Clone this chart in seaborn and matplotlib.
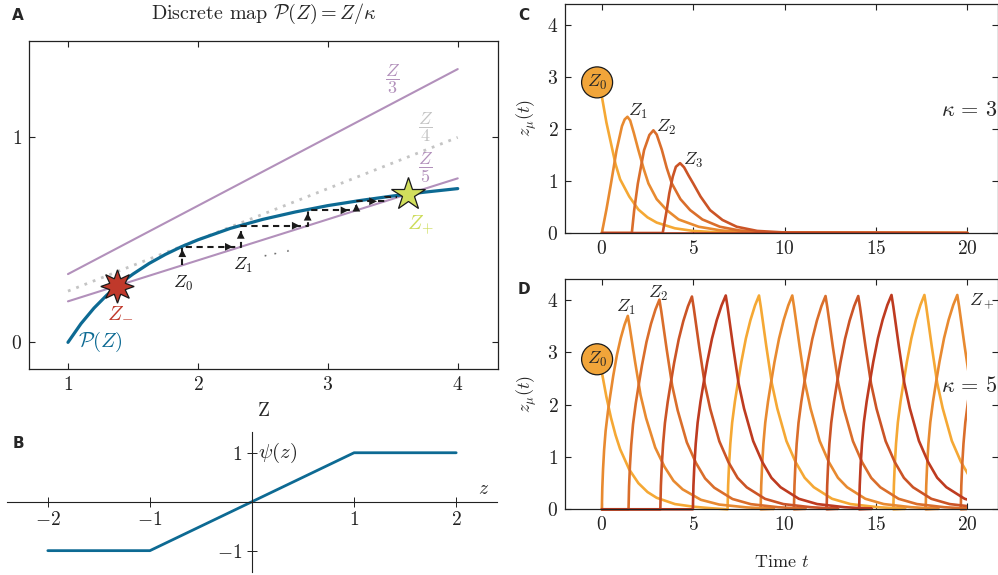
import numpy as np
import pandas as pd
import seaborn as sns
import matplotlib.pyplot as plt
from matplotlib.patches import Rectangle

# ---- Panel A: discrete map ----
Z_grid = [1.0, 1.1, 1.2, 1.3, 1.4, 1.5, 1.625, 1.75, 1.875, 2.0, 2.25, 2.5,
          2.75, 3.0, 3.25, 3.5, 3.75, 4.0]
P_vals = [0.0, 0.091, 0.167, 0.231, 0.286, 0.333, 0.385, 0.429, 0.467, 0.5,
          0.556, 0.6, 0.636, 0.667, 0.692, 0.714, 0.733, 0.75]
Z_ends = [1.0, 4.0]
Z_over3 = [0.333, 1.333]
Z_over4 = [0.25, 1.0]
Z_over5 = [0.2, 0.8]
cob_Z = [1.88, 2.33, 2.845, 3.22, 3.44, 3.535]
cob_y = [0.376, 0.466, 0.569, 0.644, 0.688, 0.707]
fixed_Z = [1.38, 3.62]
fixed_y = [0.276, 0.724]

# ---- Panel B: psi(z) ----
psi_z = [-2, -1, 1, 2]
psi_v = [-1, -1, 1, 1]

# ---- Panel C: kappa = 3 ----
c_t0 = [0, 0.25, 0.5, 0.75, 1.0, 1.5, 2.0, 2.5, 3.0, 4.0, 5.0, 6.0, 8.0, 10.0, 20.0]
c_v0 = [2.62, 2.12, 1.72, 1.32, 1.03, 0.70, 0.45, 0.30, 0.20, 0.09, 0.04, 0.02, 0.005, 0, 0]
c_t1 = [0, 0.25, 0.5, 0.8, 1.1, 1.25, 1.4, 1.55, 1.75, 2.0, 2.3, 2.55, 3.0, 3.55, 4.2, 5.3, 6.5, 8.0, 20]
c_v1 = [0, 0.45, 0.95, 1.58, 2.05, 2.18, 2.23, 2.16, 1.92, 1.59, 1.22, 0.95, 0.65, 0.44, 0.26, 0.12, 0.05, 0.01, 0]
c_t2 = [0, 1.64, 1.77, 1.97, 2.31, 2.6, 2.82, 3.0, 3.28, 3.55, 3.83, 4.3, 4.83, 5.5, 6.46, 7.5, 9.0, 20]
c_v2 = [0, 0, 0.44, 0.95, 1.59, 1.88, 1.97, 1.89, 1.60, 1.25, 0.95, 0.65, 0.44, 0.26, 0.12, 0.05, 0.01, 0]
c_t3 = [0, 3.33, 3.55, 3.69, 3.88, 4.05, 4.28, 4.5, 4.75, 5.0, 5.4, 5.92, 6.6, 7.38, 8.5, 10.0, 20]
c_v3 = [0, 0, 0.44, 0.76, 1.08, 1.27, 1.34, 1.26, 1.1, 0.95, 0.7, 0.44, 0.25, 0.12, 0.04, 0.01, 0]
c_t4 = [0, 20]
c_v4 = [0, 0]

# ---- Panel D: kappa = 5 ----
# one pulse (onset -> peak, peak -> decay)
rise_dt = [0, 0.03, 0.08, 0.15, 0.25, 0.40, 0.55, 0.75, 1.00, 1.25, 1.50, 1.72]
rise_v = [0, 0.45, 0.85, 1.25, 1.65, 2.05, 2.38, 2.80, 3.25, 3.60, 3.88, 4.07]
decay_dt = [0, 0.1, 0.2, 0.4, 0.7, 1.0, 1.5, 2.0, 2.5, 3.0, 4.0, 5.0, 6.5, 8.0]
decay_v = [4.07, 3.85, 3.6, 3.1, 2.40, 1.92, 1.30, 0.90, 0.60, 0.42, 0.20, 0.10, 0.04, 0.01]
# Z0 initial decay
d_t0 = [0, 0.25, 0.5, 0.75, 1.0, 1.5, 2.0, 2.5, 3.0, 4.0, 5.0, 6.0]
d_v0 = [2.62, 2.15, 1.75, 1.42, 1.15, 0.76, 0.50, 0.33, 0.22, 0.10, 0.05, 0.02]
# pulses per unit: (onset, peak time, peak value)
d_pulses = [
    [(6.88, 8.60, 4.09), (15.95, 17.65, 4.10)],
    [(0.0, 1.42, 3.70), (8.69, 10.42, 4.09), (17.72, 19.45, 4.10)],
    [(1.46, 3.15, 4.01), (10.51, 12.24, 4.08), (19.64, 21.35, 4.10)],
    [(3.20, 4.93, 4.07), (12.30, 14.03, 4.08)],
    [(4.98, 6.78, 4.09), (14.08, 15.85, 4.10)],
]

unit_colors = ['#f5a834', '#e88a30', '#da6e2b', '#cb5426', '#be3b20']
blue = '#0d6a93'
purple = '#b290bb'

sns.set_theme(style='ticks')
plt.rcParams['font.family'] = ['cmr10', 'DejaVu Sans']
plt.rcParams['mathtext.fontset'] = 'cm'
plt.rcParams['axes.formatter.use_mathtext'] = True
plt.rcParams['axes.unicode_minus'] = True
plt.rcParams['axes.edgecolor'] = '#222222'
plt.rcParams['axes.linewidth'] = 0.9

W, H = 998, 575
fig = plt.figure(figsize=(W / 100, H / 100), dpi=100)


def box(l, t, r, b):
    return [l / W, 1 - b / H, (r - l) / W, (b - t) / H]


# ================= A =================
axA = fig.add_axes(box(29, 41, 498, 369))
sns.lineplot(x=Z_ends, y=Z_over3, ax=axA, color=purple, lw=1.5)
sns.lineplot(x=Z_ends, y=Z_over5, ax=axA, color=purple, lw=1.5)
sns.lineplot(x=Z_ends, y=Z_over4, ax=axA, color='#c4c4c4', lw=2.0)
axA.lines[-1].set_linestyle((0, (1, 2.2)))
sns.lineplot(x=Z_grid, y=P_vals, ax=axA, color=blue, lw=2.3, sort=False, estimator=None)

# cobweb
path_x, path_y = [], []
for n in range(len(cob_Z) - 1):
    path_x += [cob_Z[n], cob_Z[n], cob_Z[n + 1]]
    path_y += [cob_y[n], cob_y[n + 1], cob_y[n + 1]]
axA.plot(path_x, path_y, color='k', lw=1.5, ls=(0, (3, 2.2)))
for n in range(len(cob_Z) - 2):
    dv = cob_y[n + 1] - cob_y[n]
    axA.annotate('', xy=(cob_Z[n], cob_y[n + 1] - 0.012),
                 xytext=(cob_Z[n], cob_y[n + 1] - 0.012 - dv * 0.3),
                 arrowprops=dict(arrowstyle='-|>', color='k', lw=0, mutation_scale=14))
    dz = cob_Z[n + 1] - cob_Z[n]
    axA.annotate('', xy=(cob_Z[n + 1] - 0.04, cob_y[n + 1]),
                 xytext=(cob_Z[n + 1] - 0.04 - dz * 0.3, cob_y[n + 1]),
                 arrowprops=dict(arrowstyle='-|>', color='k', lw=0, mutation_scale=14))

axA.plot(fixed_Z[0], fixed_y[0], marker=(8, 1, 0), ms=24, mfc='#c0392b', mec='k', mew=0.9)
axA.plot(fixed_Z[1], fixed_y[1], marker='*', ms=25, mfc='#d2df5c', mec='k', mew=0.9)

axA.text(3.5, 1.285, r'$\dfrac{Z}{3}$', color=purple, fontsize=13, ha='center', va='center')
axA.text(3.754, 1.05, r'$\dfrac{Z}{4}$', color='#c4c4c4', fontsize=13, ha='center', va='center')
axA.text(3.754, 0.85, r'$\dfrac{Z}{5}$', color=purple, fontsize=13, ha='center', va='center')
axA.text(1.40, 0.146, r'$Z_{-}$', color='#c0392b', fontsize=15, ha='center', va='center')
axA.text(3.71, 0.571, r'$Z_{+}$', color='#cddc5a', fontsize=15, ha='center', va='center')
axA.text(1.885, 0.288, r'$Z_0$', color='k', fontsize=13, ha='center', va='center')
axA.text(2.346, 0.376, r'$Z_1$', color='k', fontsize=13, ha='center', va='center')
axA.text(2.6, 0.44, r'$\cdot\ \cdot\ \cdot$', color='k', fontsize=10, ha='center', va='center',
         rotation=12)
axA.text(1.08, 0.0, r'$\mathcal{P}(Z)$', color=blue, fontsize=15, ha='left', va='center')

axA.set_xlim(0.7, 4.31)
axA.set_ylim(-0.13, 1.47)
axA.set_xticks([1, 2, 3, 4])
axA.set_yticks([0, 1])
axA.tick_params(direction='in', top=True, right=True, length=4, width=0.8,
                labelsize=14, colors='#222222', pad=5)
axA.set_xlabel('Z', fontsize=14, labelpad=6)
axA.set_ylabel('')
axA.set_title(r'Discrete map $\mathcal{P}(Z) = Z/\kappa$', fontsize=14.5, pad=16)

# ================= B =================
axB = fig.add_axes(box(7, 431.7, 497, 571.7))
sns.lineplot(x=psi_z, y=psi_v, ax=axB, color=blue, lw=2.0, sort=False, estimator=None)
axB.set_xlim(-2.4, 2.4)
axB.set_ylim(-1.43, 1.43)
axB.spines['left'].set_position('zero')
axB.spines['bottom'].set_position('zero')
axB.spines['right'].set_visible(False)
axB.spines['top'].set_visible(False)
axB.spines['left'].set_linewidth(0.8)
axB.spines['bottom'].set_linewidth(0.8)
axB.patch.set_alpha(0)
axB.set_xticks([-2, -1, 1, 2])
axB.set_yticks([-1, 1])
axB.tick_params(direction='inout', length=7, width=0.7, labelsize=14, colors='#222222')
axB.annotate('', xy=(2.42, 0), xytext=(2.3, 0),
             arrowprops=dict(arrowstyle='->', lw=0.8, color='#222222', mutation_scale=10))
axB.annotate('', xy=(0, 1.45), xytext=(0, 1.3),
             arrowprops=dict(arrowstyle='->', lw=0.8, color='#222222', mutation_scale=10))
axB.text(2.27, 0.26, r'$z$', fontsize=14, ha='center', va='center')
axB.text(0.06, 1.0, r'$\psi(z)$', fontsize=15, ha='left', va='center')
axB.set_xlabel('')
axB.set_ylabel('')


# ================= C and D =================
def style_ts(ax):
    ax.set_xlim(-2, 21.65)
    ax.set_ylim(0, 4.4)
    ax.set_xticks([0, 5, 10, 15, 20])
    ax.set_yticks([0, 1, 2, 3, 4])
    ax.tick_params(direction='in', top=True, right=True, length=4, width=0.8,
                   labelsize=14, colors='#222222', pad=5)
    ax.set_ylabel(r'$z_{\mu}(t)$', fontsize=13, labelpad=6)


axC = fig.add_axes(box(565.3, 3.7, 997.5, 233))
c_series = [(c_t0, c_v0), (c_t1, c_v1), (c_t2, c_v2), (c_t3, c_v3), (c_t4, c_v4)]
frames = []
for u, (tt, vv) in enumerate(c_series):
    frames.append(pd.DataFrame({'t': tt, 'z': vv, 'unit': u}))
dfC = pd.concat(frames, ignore_index=True)
sns.lineplot(data=dfC, x='t', y='z', hue='unit', palette=unit_colors, ax=axC,
             lw=1.9, sort=False, estimator=None, legend=False)
style_ts(axC)
axC.set_xlabel('')
axC.text(1.95, 2.33, r'$Z_1$', fontsize=13, ha='center', va='center')
axC.text(3.5, 2.03, r'$Z_2$', fontsize=13, ha='center', va='center')
axC.text(5.0, 1.4, r'$Z_3$', fontsize=13, ha='center', va='center')
axC.text(21.65, 2.35, r'$\kappa\,=\,3$', fontsize=16, ha='right', va='center')
axC.text(-0.26, 2.89, r'$Z_0$', fontsize=13, ha='center', va='center',
         bbox=dict(boxstyle='circle,pad=0.3', fc='#f1a53a', ec='k', lw=0.9))

axD = fig.add_axes(box(565.3, 279.3, 997.5, 509.3))
frames = []
for u, pulses in enumerate(d_pulses):
    if u == 0:
        tt, vv = list(d_t0), list(d_v0)
    else:
        tt, vv = [0.0], [0.0]
    for (t0, tp, h) in pulses:
        scale_t = (tp - t0) / rise_dt[-1]
        tt += list(t0 + np.array(rise_dt) * scale_t)
        vv += list(np.array(rise_v) * h / rise_v[-1])
        tt += list(tp + np.array(decay_dt[1:]))
        vv += list(np.array(decay_v[1:]) * h / decay_v[0])
    frames.append(pd.DataFrame({'t': tt, 'z': vv, 'unit': u}))
dfD = pd.concat(frames, ignore_index=True)
sns.lineplot(data=dfD, x='t', y='z', hue='unit', palette=unit_colors, ax=axD,
             lw=1.9, sort=False, estimator=None, legend=False)
clip = Rectangle((-2, -1), 22, 7, transform=axD.transData)
for ln in axD.lines:
    ln.set_clip_path(clip)
style_ts(axD)
axD.set_xlabel(r'Time $t$', fontsize=13, labelpad=14)
axD.text(1.3, 3.87, r'$Z_1$', fontsize=13, ha='center', va='center')
axD.text(3.1, 4.13, r'$Z_2$', fontsize=13, ha='center', va='center')
axD.text(20.8, 3.98, r'$Z_+$', fontsize=13, ha='center', va='center')
axD.text(21.65, 2.35, r'$\kappa\,=\,5$', fontsize=16, ha='right', va='center')
axD.text(-0.26, 2.87, r'$Z_0$', fontsize=13, ha='center', va='center',
         bbox=dict(boxstyle='circle,pad=0.3', fc='#f1a53a', ec='k', lw=0.9))

# panel letters
for letter, (px, py) in zip('ABCD', [(18, 15), (18, 444), (524, 15), (524, 290)]):
    fig.text(px / W, 1 - py / H, letter, fontsize=11, fontweight='bold',
             family='DejaVu Sans', ha='center', va='center')

fig.savefig('out.png', dpi=100)
